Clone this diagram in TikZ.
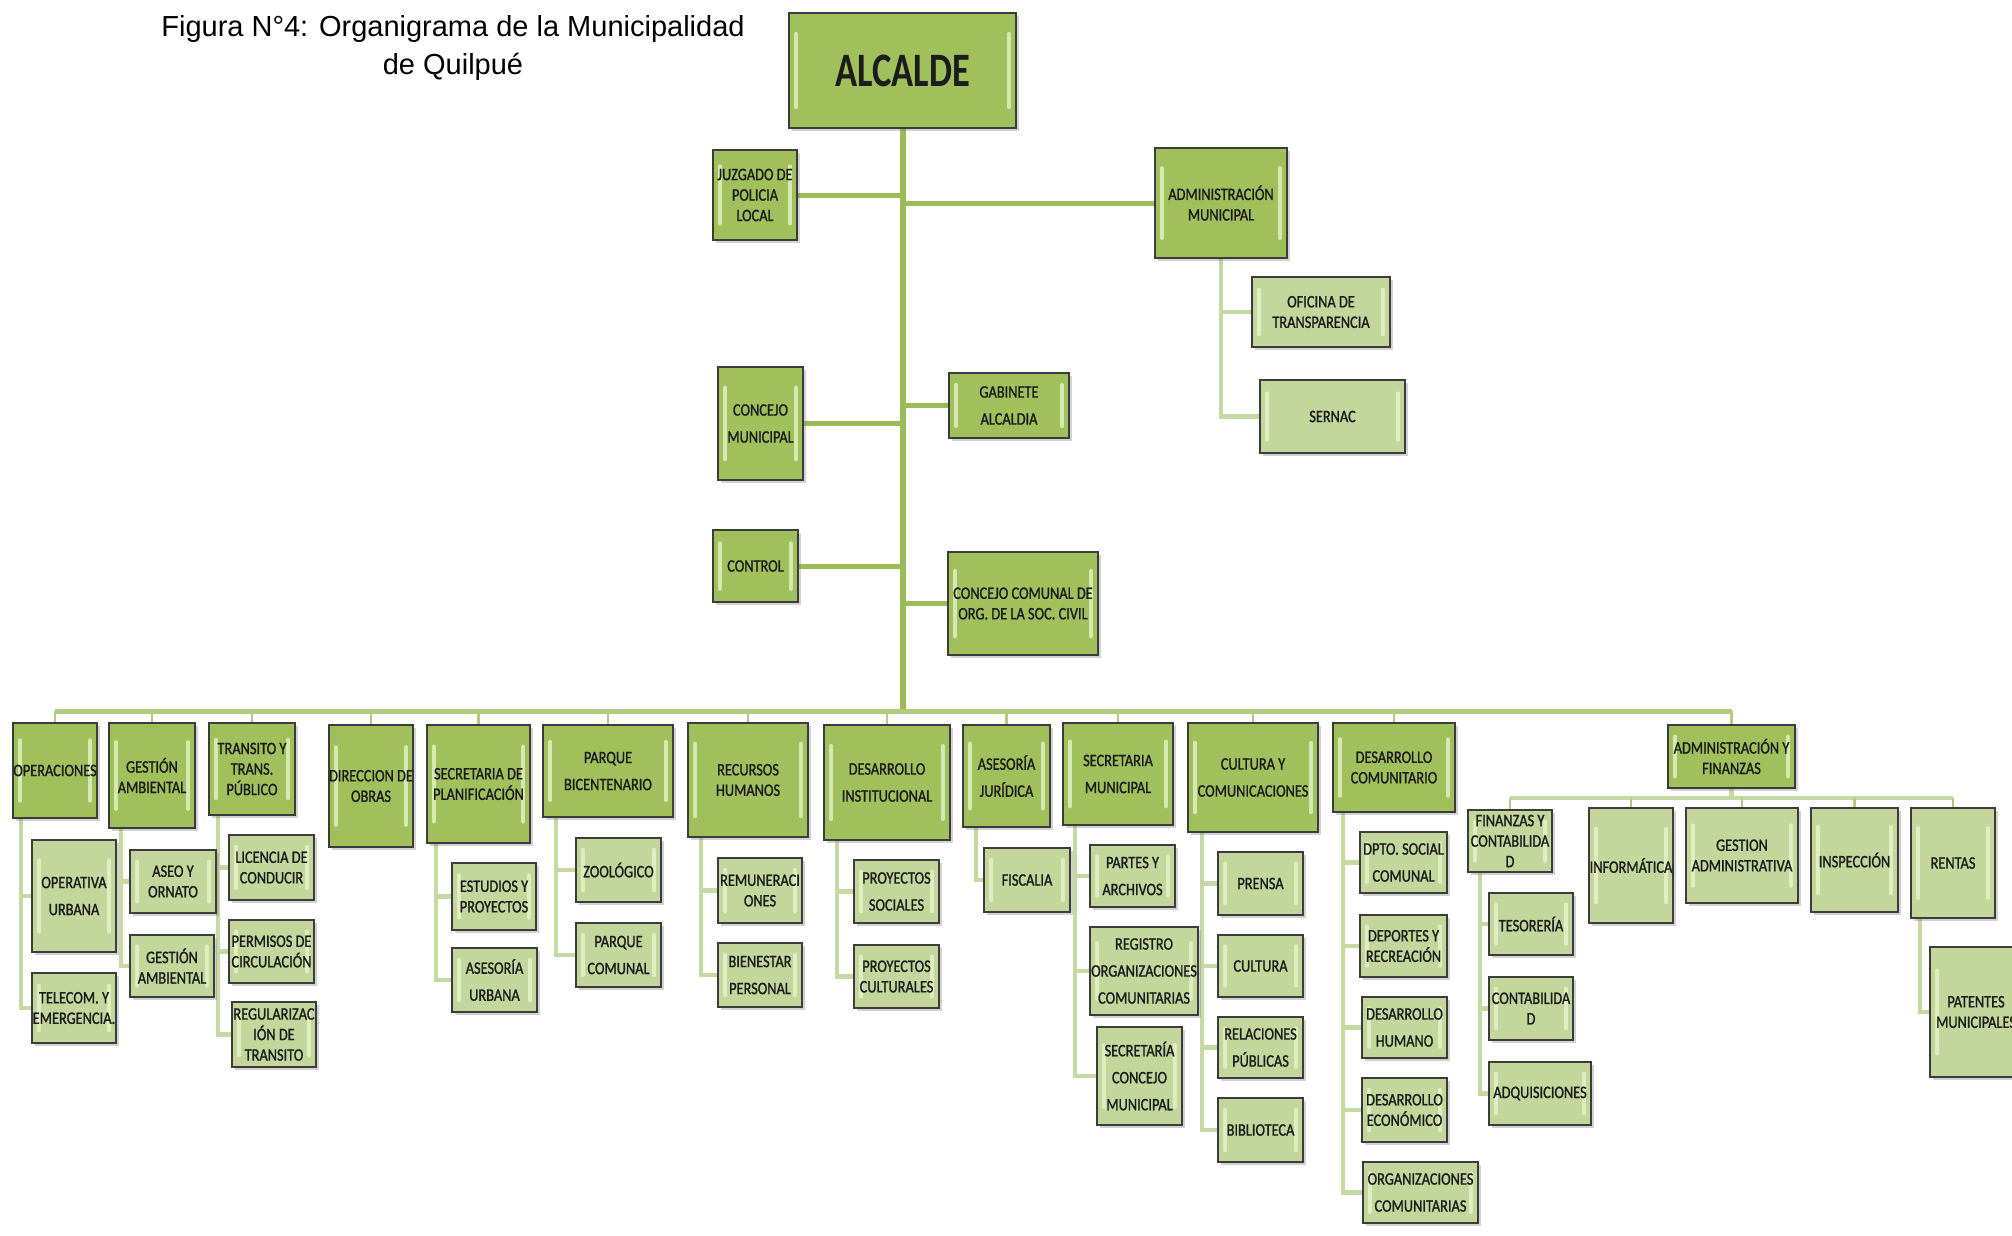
\documentclass[tikz,border=0pt]{standalone}
\usepackage{fontspec}
\setmainfont{Liberation Sans}
\newfontfamily\boxfont[FakeStretch=0.82,FakeBold=1.2]{Carlito}
\newfontfamily\bigfont[FakeStretch=0.76]{Carlito}
\usetikzlibrary{shadows,calc,backgrounds}
\definecolor{gtop}{HTML}{9FC05B}
\definecolor{gsub}{HTML}{C3D69B}
\definecolor{ghl}{HTML}{EAF5CF}
\definecolor{gedge}{HTML}{3C3C3C}
\definecolor{gline}{HTML}{9BBB59}
\definecolor{gbus}{HTML}{B2CB7E}
\definecolor{glinel}{HTML}{C6D9A2}
\definecolor{txtc}{HTML}{1C1C1C}
\newcommand\mkbox[8]{%
  \node[#1, minimum width={(#5-#3)*1pt}, minimum height={(#6-#4)*1pt}] (#2) at ({(#3+#5)/2},{(#4+#6)/2}) {};
  \node[#7] (#2t) at (#2.center) {#8};}
\tikzset{
  hl/.style={path picture={
    \draw[ghl, line width=3.5pt, line cap=round, opacity=.75]
      ($([xshift=7pt]path picture bounding box.south west)!.18!([xshift=7pt]path picture bounding box.north west)$) --
      ($([xshift=7pt]path picture bounding box.south west)!.82!([xshift=7pt]path picture bounding box.north west)$);
    \draw[ghl, line width=3.5pt, line cap=round, opacity=.75]
      ($([xshift=-7pt]path picture bounding box.south east)!.18!([xshift=-7pt]path picture bounding box.north east)$) --
      ($([xshift=-7pt]path picture bounding box.south east)!.82!([xshift=-7pt]path picture bounding box.north east)$);
  }},
  boxbase/.style={draw=gedge, line width=2.2pt, inner sep=0pt, outer sep=0pt,
    drop shadow={shadow xshift=2.5pt, shadow yshift=-2.5pt, opacity=.35}},
  topb/.style={boxbase, fill=gtop, hl},
  subb/.style={boxbase, fill=gsub, hl},
  txt/.style={align=center, text=txtc, inner sep=0pt, font=\boxfont\fontsize{17.5}{27}\selectfont},
  tw/.style={txt},
  tl/.style={txt, font=\boxfont\fontsize{17.5}{20.5}\selectfont},
  bigt/.style={text=txtc, inner sep=0pt, font=\bigfont\bfseries\fontsize{48}{52}\selectfont},
  trunkln/.style={draw=gline, line width=6pt},
  branchln/.style={draw=gline, line width=5pt},
  busln/.style={draw=gbus, line width=5pt},
  subln/.style={draw=glinel, line width=4.5pt},
  dropln/.style={draw=gbus, line width=2.5pt},
  ttl/.style={font=\fontsize{29}{32}\selectfont, anchor=base, inner sep=0pt}
}
\begin{document}
\begin{tikzpicture}[x=1pt,y=-1pt]
\useasboundingbox (0,0) rectangle (2012,1235);

\node[ttl] (ttl1) at (453,36) {Figura N°4: Organigrama de la Municipalidad};
\node[ttl] (ttl2) at (453,74) {de Quilpué};

% upper part
\mkbox{topb}{alc}{789}{13}{1016}{128}{bigt}{ALCALDE}
\mkbox{topb}{juz}{713}{150}{797}{240}{tl}{JUZGADO DE\\POLICIA\\LOCAL}
\mkbox{topb}{admm}{1155}{148}{1287}{258}{tl}{ADMINISTRACIÓN\\MUNICIPAL}
\mkbox{subb}{ofi}{1252}{277}{1390}{347}{tl}{OFICINA DE\\TRANSPARENCIA}
\mkbox{subb}{ser}{1260}{380}{1405}{453}{tl}{SERNAC}
\mkbox{topb}{conm}{718}{367}{803}{480}{tw}{CONCEJO\\MUNICIPAL}
\mkbox{topb}{gab}{949}{373}{1069}{438}{tw}{GABINETE\\ALCALDIA}
\mkbox{topb}{ctl}{713}{530}{798}{602}{tl}{CONTROL}
\mkbox{topb}{ccom}{948}{552}{1098}{655}{tl}{CONCEJO COMUNAL DE\\ORG. DE LA SOC. CIVIL}

% main row
\mkbox{topb}{ops}{13}{723}{97}{818}{tl}{OPERACIONES}
\mkbox{topb}{gam}{109}{723}{195}{828}{tl}{GESTIÓN\\AMBIENTAL}
\mkbox{topb}{tra}{209}{723}{295}{815}{tl}{TRANSITO Y\\TRANS.\\PÚBLICO}
\mkbox{topb}{dob}{329}{725}{413}{847}{tl}{DIRECCION DE\\OBRAS}
\mkbox{topb}{spl}{427}{725}{530}{843}{tl}{SECRETARIA DE\\PLANIFICACIÓN}
\mkbox{topb}{pbi}{543}{725}{673}{817}{tw}{PARQUE\\BICENTENARIO}
\mkbox{topb}{rrh}{688}{723}{808}{837}{tl}{RECURSOS\\HUMANOS}
\mkbox{topb}{din}{824}{725}{950}{840}{tw}{DESARROLLO\\INSTITUCIONAL}
\mkbox{topb}{aju}{963}{725}{1050}{827}{tw}{ASESORÍA\\JURÍDICA}
\mkbox{topb}{smu}{1063}{723}{1173}{825}{tw}{SECRETARIA\\MUNICIPAL}
\mkbox{topb}{cyc}{1188}{723}{1318}{832}{tw}{CULTURA Y\\COMUNICACIONES}
\mkbox{topb}{dco}{1333}{723}{1455}{812}{tl}{DESARROLLO\\COMUNITARIO}
\mkbox{topb}{admf}{1668}{725}{1795}{788}{tl}{ADMINISTRACIÓN Y\\FINANZAS}

% sub boxes
\mkbox{subb}{opu}{32}{840}{116}{952}{tw}{OPERATIVA\\URBANA}
\mkbox{subb}{tel}{32}{973}{116}{1043}{tl}{TELECOM. Y\\EMERGENCIA.}
\mkbox{subb}{aseo}{130}{850}{216}{913}{tl}{ASEO Y\\ORNATO}
\mkbox{subb}{gamb}{130}{935}{214}{997}{tl}{GESTIÓN\\AMBIENTAL}
\mkbox{subb}{lic}{229}{835}{314}{900}{tl}{LICENCIA DE\\CONDUCIR}
\mkbox{subb}{per}{229}{920}{314}{983}{tl}{PERMISOS DE\\CIRCULACIÓN}
\mkbox{subb}{reg}{232}{1002}{316}{1067}{tl}{REGULARIZAC\\IÓN DE\\TRANSITO}
\mkbox{subb}{est}{452}{863}{536}{930}{tl}{ESTUDIOS Y\\PROYECTOS}
\mkbox{subb}{aur}{452}{948}{537}{1012}{tw}{ASESORÍA\\URBANA}
\mkbox{subb}{zoo}{576}{838}{661}{902}{tl}{ZOOLÓGICO}
\mkbox{subb}{pco}{576}{923}{661}{987}{tw}{PARQUE\\COMUNAL}
\mkbox{subb}{rem}{718}{858}{802}{923}{tl}{REMUNERACI\\ONES}
\mkbox{subb}{bie}{718}{943}{802}{1007}{tw}{BIENESTAR\\PERSONAL}
\mkbox{subb}{pso}{854}{860}{939}{923}{tw}{PROYECTOS\\SOCIALES}
\mkbox{subb}{pcu}{854}{945}{939}{1008}{tl}{PROYECTOS\\CULTURALES}
\mkbox{subb}{fis}{984}{848}{1070}{912}{tl}{FISCALIA}
\mkbox{subb}{par}{1090}{845}{1175}{907}{tw}{PARTES Y\\ARCHIVOS}
\mkbox{subb}{rorg}{1090}{927}{1198}{1015}{tw}{REGISTRO\\ORGANIZACIONES\\COMUNITARIAS}
\mkbox{subb}{sco}{1097}{1027}{1182}{1125}{tw}{SECRETARÍA\\CONCEJO\\MUNICIPAL}
\mkbox{subb}{pre}{1218}{852}{1303}{915}{tl}{PRENSA}
\mkbox{subb}{cul}{1218}{935}{1303}{997}{tl}{CULTURA}
\mkbox{subb}{rel}{1218}{1017}{1303}{1078}{tw}{RELACIONES\\PÚBLICAS}
\mkbox{subb}{bib}{1218}{1098}{1303}{1162}{tl}{BIBLIOTECA}
\mkbox{subb}{dso}{1360}{832}{1447}{893}{tw}{DPTO. SOCIAL\\COMUNAL}
\mkbox{subb}{dep}{1360}{915}{1447}{977}{tl}{DEPORTES Y\\RECREACIÓN}
\mkbox{subb}{dhu}{1362}{997}{1447}{1058}{tw}{DESARROLLO\\HUMANO}
\mkbox{subb}{dec}{1362}{1078}{1447}{1142}{tl}{DESARROLLO\\ECONÓMICO}
\mkbox{subb}{oco}{1363}{1162}{1478}{1223}{tw}{ORGANIZACIONES\\COMUNITARIAS}
\mkbox{subb}{fin}{1468}{810}{1552}{872}{tl}{FINANZAS Y\\CONTABILIDA\\D}
\mkbox{subb}{inf}{1589}{808}{1673}{923}{tl}{INFORMÁTICA}
\mkbox{subb}{gad}{1686}{808}{1798}{903}{tl}{GESTION\\ADMINISTRATIVA}
\mkbox{subb}{ins}{1811}{808}{1898}{912}{tl}{INSPECCIÓN}
\mkbox{subb}{ren}{1911}{808}{1995}{918}{tl}{RENTAS}
\mkbox{subb}{tes}{1489}{893}{1573}{955}{tl}{TESORERÍA}
\mkbox{subb}{con}{1489}{977}{1573}{1040}{tl}{CONTABILIDA\\D}
\mkbox{subb}{adq}{1489}{1062}{1591}{1125}{tl}{ADQUISICIONES}
\mkbox{subb}{pat}{1930}{947}{2022}{1077}{tl}{PATENTES\\MUNICIPALES}

\coordinate (bus) at (903,711);
\coordinate (fbus) at (1732,798);

\begin{pgfonlayer}{background}
  \fill[white] (0,0) rectangle (2012,1235);
  % trunk and side branches
  \draw[trunkln] (alc.south) -- (alc.south |- bus);
  \draw[branchln] (juz.east) -- (juz.east -| alc.south);
  \draw[branchln] (admm.west) -- (admm.west -| alc.south);
  \draw[branchln] (conm.east) -- (conm.east -| alc.south);
  \draw[branchln] (gab.west) -- (gab.west -| alc.south);
  \draw[branchln] (ctl.east) -- (ctl.east -| alc.south);
  \draw[branchln] (ccom.west) -- (ccom.west -| alc.south);
  \draw[subln] (admm.south) |- (ofi.west);
  \draw[subln] (admm.south) |- (ser.west);
  % bus
  \draw[busln] (ops.north |- bus) -- (admf.north |- bus);
  \foreach \n in {ops,gam,tra,dob,spl,pbi,rrh,din,aju,smu,cyc,dco,admf}
    \draw[dropln] (\n.north) -- (\n.north |- bus);
  % groups
  \foreach \c in {opu,tel} \draw[subln] ([xshift=8pt]ops.south west) |- (\c.west);
  \foreach \c in {aseo,gamb} \draw[subln] ([xshift=12pt]gam.south west) |- (\c.west);
  \foreach \c in {lic,per,reg} \draw[subln] ([xshift=9pt]tra.south west) |- (\c.west);
  \foreach \c in {est,aur} \draw[subln] ([xshift=9pt]spl.south west) |- (\c.west);
  \foreach \c in {zoo,pco} \draw[subln] ([xshift=13pt]pbi.south west) |- (\c.west);
  \foreach \c in {rem,bie} \draw[subln] ([xshift=13pt]rrh.south west) |- (\c.west);
  \foreach \c in {pso,pcu} \draw[subln] ([xshift=13pt]din.south west) |- (\c.west);
  \draw[subln] ([xshift=13pt]aju.south west) |- (fis.west);
  \foreach \c in {par,rorg,sco} \draw[subln] ([xshift=12pt]smu.south west) |- (\c.west);
  \foreach \c in {pre,cul,rel,bib} \draw[subln] ([xshift=14pt]cyc.south west) |- (\c.west);
  \foreach \c in {dso,dep,dhu,dec,oco} \draw[subln] ([xshift=10pt]dco.south west) |- (\c.west);
  % administracion y finanzas
  \draw[subln] (admf.south) -- (admf.south |- fbus);
  \draw[subln] (fin.north |- fbus) -- (ren.north |- fbus);
  \foreach \n in {fin,inf,gad,ins,ren}
    \draw[dropln] (\n.north) -- (\n.north |- fbus);
  \foreach \c in {tes,con,adq} \draw[subln] ([xshift=12pt]fin.south west) |- (\c.west);
  \draw[subln] ([xshift=9pt]ren.south west) |- (pat.west);
\end{pgfonlayer}
\end{tikzpicture}
\end{document}
